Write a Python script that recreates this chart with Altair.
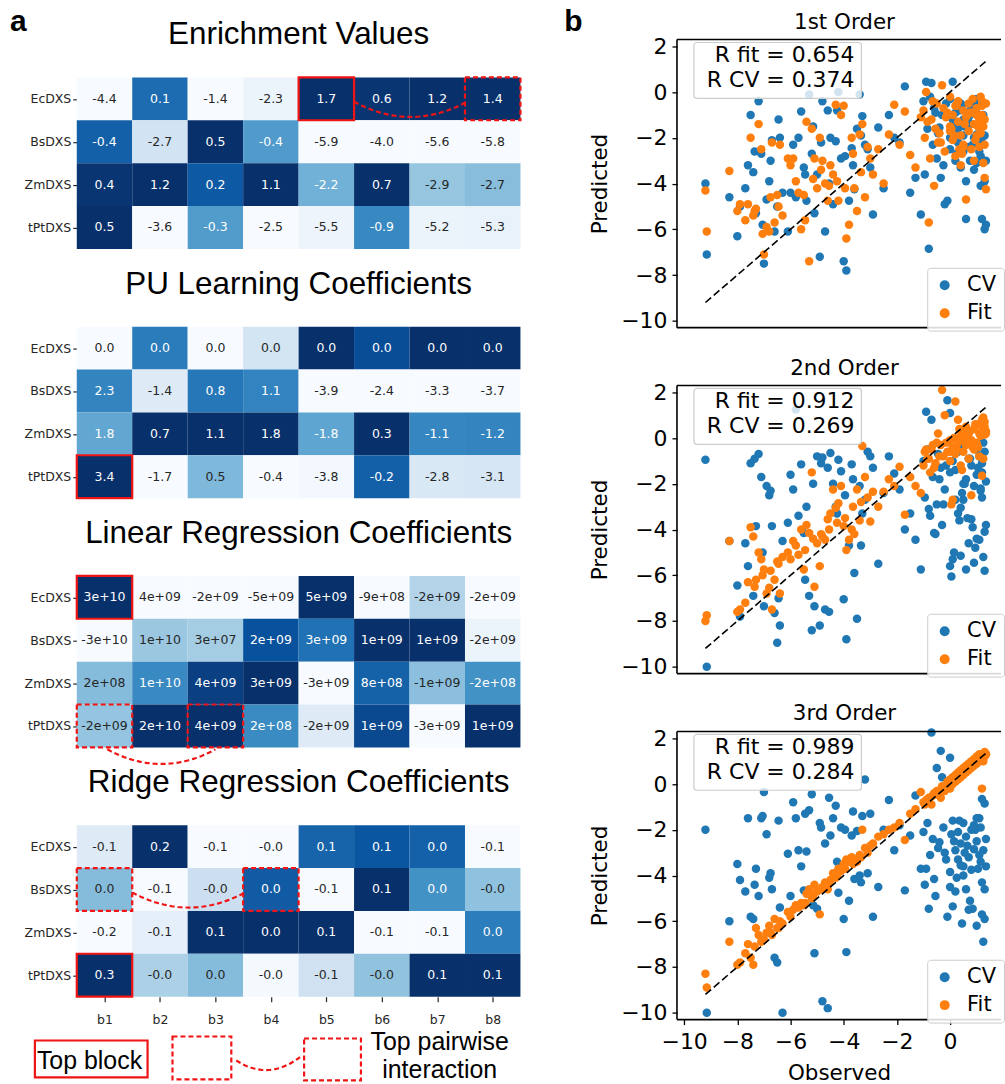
import altair as alt
import numpy as np
import pandas as pd

# ---------------------------------------------------------------- heatmaps
BLOCKS = ["b1", "b2", "b3", "b4", "b5", "b6", "b7", "b8"]
ENZYMES = ["EcDXS", "BsDXS", "ZmDXS", "tPtDXS"]

ENRICHMENT = [
    [-4.4, 0.1, -1.4, -2.3, 1.7, 0.6, 1.2, 1.4],
    [-0.4, -2.7, 0.5, -0.4, -5.9, -4.0, -5.6, -5.8],
    [0.4, 1.2, 0.2, 1.1, -2.2, 0.7, -2.9, -2.7],
    [0.5, -3.6, -0.3, -2.5, -5.5, -0.9, -5.2, -5.3],
]
PU_LEARNING = [
    [0.0, 0.0, 0.0, 0.0, 0.0, 0.0, 0.0, 0.0],
    [2.3, -1.4, 0.8, 1.1, -3.9, -2.4, -3.3, -3.7],
    [1.8, 0.7, 1.1, 1.8, -1.8, 0.3, -1.1, -1.2],
    [3.4, -1.7, 0.5, -0.4, -3.8, -0.2, -2.8, -3.1],
]
LINEAR = [
    [3.4e10, 4.4e9, -2.4e9, -5e9, 5e9, -9e8, -1.8e9, -2.2e9],
    [-2.6e10, 1.0e10, 3e7, 2e9, 3e9, 1.2e9, 1.3e9, -2.0e9],
    [2e8, 1.4e10, 4.0e9, 3e9, -3e9, 8e8, -1.3e9, -2e8],
    [-2e9, 1.9e10, 4.4e9, 2e8, -2e9, 1.0e9, -3.2e9, 1.0e9],
]
RIDGE = [
    [-0.14, 0.21, -0.085, -0.021, 0.08, 0.09, 0.04, -0.1],
    [0.01, -0.12, -0.042, 0.03, -0.12, 0.12, 0.01, -0.03],
    [-0.2, -0.09, 0.11, 0.04, 0.13, -0.09, -0.09, 0.02],
    [0.28, -0.01, 0.0, -0.02, -0.07, -0.005, 0.07, 0.07],
]
PANEL_TITLES = ["Enrichment Values", "PU Learning Coefficients",
                "Linear Regression Coefficients", "Ridge Regression Coefficients"]
PANEL_VALUES = [ENRICHMENT, PU_LEARNING, LINEAR, RIDGE]
LABEL_FORMATS = ["{:.1f}", "{:.1f}", "{:.0e}", "{:.1f}"]

# (panel, enzyme row, block column)
TOP_BLOCKS = [(0, 0, 4), (1, 3, 0), (2, 0, 0), (3, 3, 0)]
# pairs of cells joined by a dashed connector; "side" joins facing edges, "below" joins bottoms
TOP_PAIRS = [((0, 0, 4), (0, 0, 7), "side"),
             ((2, 3, 0), (2, 3, 2), "below"),
             ((3, 1, 0), (3, 1, 3), "side")]

# ---------------------------------------------------------------- scatter data
OBSERVED = [
    -9.2, -9.15, -8.3, -8.0, -7.9,
    -7.6, -7.5, -7.4, -7.3, -7.2, -7.1, -7.0, -6.9, -6.8, -6.7, -6.6, -6.5, -6.4, -6.3,
    -6.1, -5.9, -5.8, -5.6, -5.5, -5.4, -5.3, -5.2, -5.1, -5.0, -4.9, -4.8, -4.7, -4.6,
    -4.5, -4.4, -4.3, -4.2, -4.1, -4.0, -3.9, -3.8, -3.7, -3.6, -3.5, -3.4, -3.3, -3.2, -3.0, -2.9, -2.7,
    -2.5, -2.3, -2.1, -1.9, -1.7, -1.5, -1.3, -1.1,
    -0.9, -0.8, -0.7, -0.6, -0.5, -0.4, -0.3, -0.2, -0.1, 0.0, 0.0, 0.1, 0.1, 0.2, 0.2,
    0.3, 0.3, 0.4, 0.4, 0.5, 0.5, 0.6, 0.6, 0.7, 0.7, 0.8, 0.8, 0.9, 0.9, 1.0, 1.0,
    1.1, 1.1, 1.2, 1.2, 1.3, 1.3, 1.35, 0.05, 0.45, 0.85, 1.25, -0.35, 0.65, 1.15,
    -1.0, -0.95, -0.85, -0.75, -0.65, -0.55, -0.45, -0.25, -0.15, 0.15, 0.25, 0.35,
    0.55, 0.75, 0.95, 1.05, 1.15, 1.25, 1.3, 1.35, 0.0, 0.5, 1.0, 1.2,
    -7.7, -7.35, -7.05, -6.75, -6.45, -6.0, -5.7, -5.45, -5.15, -4.85, -4.55, -4.25,
    -3.95, -3.65, -3.35, -3.1,
]
CV_1ST = [
    -4.0, -7.1, -4.6, -6.3, -5.0,
    -3.2, -1.0, -3.5, -5.3, -0.4, -2.7, -7.5, -4.7, -3.9, -2.1, -6.1, -5.0, -2.0, -4.4,
    -6.1, -2.3, -4.6, -0.85, -3.3, -4.75, -0.1, -2.7, -5.3, -3.6, -7.2, -0.4, -6.1, -0.8,
    -2.0, -4.9, -2.15, 0.0, -2.9, -7.4, -7.8, -4.75, -2.45, -4.25, -1.6, -0.1, -1.05, -2.3, -3.3, -5.35, -1.55,
    -4.2, -1.0, -2.0, -2.2, 0.25, -4.4, -3.75, -5.35,
    0.45, -6.85, 0.4, -0.7, -2.9, -1.55, -1.0, -4.9, -4.75, -2.0, -0.3, 0.45, -1.2, -3.0,
    -0.9, -2.2, -1.6, -3.3, -0.5, -2.6, -1.9, -5.55, -3.9, -1.1, -2.4, -0.7, -1.4, -2.0,
    -3.4, -3.1, -1.85, -2.6, -1.0, -5.55, -1.3, -6.0, -3.9, -3.0, -1.7, -0.6, -2.3, -1.2,
    -3.75, -0.9, -2.8,
    -0.4, -3.6, -1.6, -0.2, -2.3, -0.9, -1.8, -3.2, -0.5, -1.4, -2.7, -0.8,
    -1.5, -3.0, -0.6, -2.2, -4.1, -1.0, -1.9, -5.8, -2.5, -1.2, -0.3, -2.0,
    -4.2, -2.6, -5.8, -3.0, -1.2, -4.4, -2.0, -3.6, -1.5, -2.2, -4.0, -0.8,
    -2.8, -3.2, -1.9, -2.5,
]
FIT_1ST = [
    -4.3, -6.1, -3.45, -5.2, -4.9,
    -4.9, -2.0, -5.4, -5.1, -1.4, -2.5, -7.1, -5.9, -6.1, -2.2, -5.7, -4.5, -2.3, -5.4,
    -2.9, -2.9, -3.9, -6.0, -4.5, -1.3, -7.4, -1.6, -2.9, -4.2, -2.0, -3.0, -4.0, -4.75,
    -3.2, -3.6, -0.55, -4.75, -1.0, -0.6, -6.4, -5.8, -2.0, -4.2, -5.2, -1.85, -1.4, -4.6, -2.9, -3.6, -2.5,
    -4.0, -1.85, -0.55, -2.3, -0.85, -2.75, -3.3, -1.1,
    0.0, -5.7, -1.2, -4.1, -0.5, -1.8, 0.3, -2.6, -0.9, -1.5, -0.2, -2.1, -1.0, -0.6,
    -2.8, -1.3, -0.4, -1.9, -3.2, -0.8, -2.3, -4.7, -1.1, -0.5, -1.7, -2.5, -0.9, -1.4,
    -3.0, -0.7, -1.9, -1.2, -2.4, -1.0, -0.4, -2.3, -3.75, -4.25, -1.6, -2.7, -0.3, -1.5,
    -2.2, -1.0, -1.8,
    -0.8, -2.0, -1.3, -2.9, -0.4, -1.6, -2.2, -0.7, -1.1, -1.9, -0.6, -2.5,
    -1.4, -0.9, -2.1, -1.5, -0.2, -3.1, -1.2, -0.5, -1.7, -2.4, -1.0, -0.6,
    -5.6, -5.2, -6.2, -4.6, -5.0, -3.2, -4.4, -5.6, -3.8, -3.4, -4.1, -3.9,
    -4.2, -2.7, -3.5, -2.4,
]
CV_2ND = [
    -0.95, -10.0, -4.5, -6.45, -7.8,
    -5.6, -1.1, -6.9, -3.85, -0.7, -1.7, -7.35, -2.1, -2.5, -3.85, -7.65, -8.95, -8.2, -4.5,
    -3.7, -2.25, 1.25, -1.15, -4.15, -3.0, -6.9, -8.4, -7.35, -0.8, -8.2, -0.85, -7.5, -1.3,
    -0.65, -2.0, -3.0, -0.95, -1.45, -7.05, -8.8, -4.7, -1.15, -5.9, -7.9, -2.1, -3.3, -2.7, -0.8, -1.3, -5.5,
    -2.4, -0.8, -1.55, -2.25, -4.0, -3.3, -4.45, -5.75,
    1.15, -3.1, 0.8, -4.15, -2.9, -1.8, -3.8, -2.25, 1.65, 1.1, -5.6, -5.3, -1.0, -2.7,
    -1.4, -3.3, -0.6, -5.15, -3.05, -2.0, -0.3, -5.75, -1.8, -4.6, -0.9, -3.55, -1.2, -5.45,
    -2.1, -0.5, -1.6, -4.45, -0.8, -1.5, -2.6, -5.8, -4.1, -1.9, -6.05, -2.4, -3.9, -0.2,
    -1.3, -3.5, -2.2,
    -1.0, -2.6, -0.5, -3.4, -1.7, -4.2, -0.7, -2.9, -1.2, -5.0, -0.4, -3.6,
    -2.0, -0.9, -4.8, -1.3, -2.3, -5.2, -0.6, -3.8, -1.5, -2.7, -4.4, -1.1,
    -4.6, -0.9, -5.0, -2.3, -7.0, -1.6, -3.4, -6.2, -2.0, -1.1, -7.6, -3.3,
    -2.5, -1.8, -4.7, -0.6,
]
FIT_2ND = [
    -8.0, -7.75, -4.5, -7.6, -7.5,
    -6.3, -3.9, -4.3, -6.2, -5.0, -5.3, -5.75, -6.8, -6.55, -7.5, -6.2, -5.4, -6.8, -5.2,
    -5.0, -4.5, -4.7, -4.0, -5.75, -3.8, -4.15, -1.5, -6.5, -4.6, -5.6, -4.3, -4.45, -3.55,
    -3.3, -2.25, -3.05, -2.85, -2.1, -3.85, -4.9, -4.45, -4.0, -4.2, -2.25, -3.6, -0.35, -1.7, -3.65, -2.35, -3.0,
    -2.35, -1.8, -2.1, -1.25, -3.35, -1.7, -2.1, -2.4,
    -0.5, -0.9, -0.5, -1.3, -0.2, -0.8, 2.1, 1.0, -0.6, -1.0, -0.1, -2.7, -0.4, 1.6,
    -0.7, 0.8, -0.2, -1.2, 0.1, -0.6, 0.3, -0.3, 0.5, -0.9, 0.2, -2.5, -0.1, 0.4,
    -0.5, 0.6, -0.3, 0.2, -0.8, 0.5, -1.65, 0.7, 0.15, 0.2, -2.9, -1.4, -0.4, -0.9,
    -0.3, 0.0, 0.6,
    -1.2, -0.6, -0.9, -1.5, -0.3, -1.1, 0.2, -0.8, -0.2, 0.0, -0.5, 0.4,
    -0.1, 0.3, 0.6, -0.4, 0.1, 0.9, 0.5, 0.3, -0.6, 0.0, -0.2, 0.8,
    -7.2, -6.5, -6.0, -5.8, -5.5, -5.3, -5.1, -4.9, -4.4, -4.2, -4.0, -3.7,
    -3.5, -3.0, -2.8, -2.6,
]
CV_3RD = [
    -2.0, -10.0, -6.0, -3.5, -4.2,
    -1.5, -5.8, -5.9, -3.7, -4.9, -1.5, -0.35, -2.2, -4.1, -4.6, -7.6, -7.8, -5.4, -10.0,
    -3.05, -0.8, -1.5, -3.6, -4.65, -2.95, -1.15, -0.45, -7.4, -5.45, -1.7, -9.5, -2.6, -9.8,
    -2.25, -1.5, -0.95, -4.75, -1.9, -5.9, -7.35, -5.1, -2.25, -4.15, -2.05, -4.0, -1.4, 0.2, -1.3, -5.8, -4.5,
    -2.0, -0.7, -2.9, -1.8, -4.65, -2.25, -0.5, -3.7,
    -3.7, -5.45, 2.25, -4.15, 0.7, -2.55, 0.3, -3.0, -5.8, 1.15, -3.85, -5.35, -1.6, -4.7,
    -2.9, -3.3, -2.1, -3.55, -2.6, -1.7, -4.0, -4.6, -2.3, -5.5, -3.2, -3.75, -2.0, -1.8,
    -2.85, -6.2, -2.5, -3.1, -1.5, -0.65, -4.3, -0.85, -4.6, -3.6, -2.2, -6.1, -5.45, -6.9,
    1.45, -2.7, -3.4,
    -2.1, -4.4, -1.7, -3.1, -2.4, -4.9, -2.8, -1.9, -3.3, -2.5, -4.1, -1.6,
    -3.0, -5.1, -2.0, -3.7, -1.9, -2.9, -5.9, -2.4, -4.5, -3.6, -1.5, -5.7,
    -4.7, -4.4, -1.4, -3.9, -1.6, -4.9, -2.9, -1.3, -5.3, -1.9, -0.6, -3.4,
    -2.0, -1.2, -4.3, -3.9,
]
FIT_3RD = [
    -8.3, -8.9, -6.9, -7.9, -7.8,
    -7.0, -7.6, -7.9, -6.3, -6.6, -6.9, -6.8, -6.5, -6.2, -6.6, -5.9, -6.3, -6.0, -6.1,
    -5.6, -5.5, -5.3, -5.2, -5.3, -4.8, -4.6, -5.0, -4.4, -4.7, -5.7, -4.5, -4.3, -4.6,
    -4.2, -3.9, -4.1, -3.7, -3.8, -3.5, -3.3, -3.4, -3.2, -3.3, -3.4, -3.1, -2.0, -2.8, -2.7, -2.6, -2.3,
    -2.2, -2.0, -1.9, -1.7, -2.45, -1.3, -1.1, -0.35,
    -0.7, -0.6, -0.9, -0.4, -0.3, -0.5, -0.1, -0.3, 0.1, 0.2, -0.2, 0.3, 0.0, 0.4,
    0.1, 0.5, 0.2, 0.6, 0.3, 0.7, 0.4, 0.5, 0.8, 0.9, 0.6, 1.0, 0.7, 0.8,
    1.1, 1.2, 0.9, 1.0, 1.3, -0.2, 1.1, 1.4, 1.2, 1.3, 0.0, 0.6, 0.9, 1.0,
    -0.6, 0.7, 1.2,
    -0.8, -0.9, -0.7, -0.6, -0.5, -0.4, -0.3, -0.2, -0.1, 0.2, 0.3, 0.4,
    0.6, 0.7, 1.0, 1.0, 1.1, 1.2, 1.3, 1.3, 0.0, 0.5, 0.9, 1.2,
    -7.4, -7.1, -6.8, -6.5, -6.3, -5.8, -5.4, -5.2, -4.9, -4.6, -4.3, -4.0,
    -3.7, -3.5, -3.2, -3.0,
]
ORDER_TITLES = ["1st Order", "2nd Order", "3rd Order"]
R_FIT = [0.654, 0.912, 0.989]
R_CV = [0.374, 0.269, 0.284]

# ---------------------------------------------------------------- styling
BLUES = ["#f7fbff", "#deebf7", "#c6dbef", "#9ecae1", "#6baed6",
         "#4292c6", "#2171b5", "#08519c", "#08306b"]
RED = "#f01414"
SANS = "DejaVu Sans"
ARIAL = "Liberation Sans"

TOP_GAP = 38        # room above the first heatmap inside the left plot area
ROW_H = 43          # pixel height of one heatmap row
PANEL_STEP = 250    # vertical distance between stacked heatmaps
N_COLS = len(BLOCKS)
LEFT_W = 445
CELL_W = LEFT_W / N_COLS
LEFT_H = TOP_GAP + 3 * PANEL_STEP + 4 * ROW_H
SC_W, SC_H = 325, 289


def row_top(panel, row):
    return TOP_GAP + panel * PANEL_STEP + row * ROW_H


def col_at(px):
    """Column units for a horizontal offset (pixels) from the heatmap's left edge."""
    return px / CELL_W


# ---------------------------------------------------------------- heatmap tables
cells = []
for k, (mat, fmt) in enumerate(zip(PANEL_VALUES, LABEL_FORMATS)):
    arr = np.array(mat, dtype=float)
    lo, hi = arr.min(axis=0), arr.max(axis=0)
    norm = (arr - lo) / (hi - lo)          # colour scaled within each block column
    for r in range(len(ENZYMES)):
        for c in range(N_COLS):
            cells.append(dict(
                c0=c, c1=c + 1, cm=c + 0.5,
                y0=row_top(k, r), y1=row_top(k, r) + ROW_H, ym=row_top(k, r) + ROW_H / 2,
                norm=float(norm[r, c]), label=fmt.format(arr[r, c]),
                ink="white" if norm[r, c] > 0.46 else "#262626",
            ))
cells = pd.DataFrame(cells)

solid_boxes = pd.DataFrame([dict(c0=c, c1=c + 1, y0=row_top(k, r), y1=row_top(k, r) + ROW_H)
                            for k, r, c in TOP_BLOCKS])
dashed = []
for a, b, _ in TOP_PAIRS:
    for k, r, c in (a, b):
        if (k, r, c) not in TOP_BLOCKS:
            dashed.append(dict(c0=c, c1=c + 1, y0=row_top(k, r), y1=row_top(k, r) + ROW_H))
dashed_boxes = pd.DataFrame(dashed)


def arc(name, x0, y0, x1, y1, depth, n=40):
    t = np.linspace(0, 1, n)
    return pd.DataFrame(dict(arc=name, i=np.arange(n), x=x0 + (x1 - x0) * t,
                             y=y0 + (y1 - y0) * t + 4 * depth * t * (1 - t)))


arcs = []
for j, (a, b, kind) in enumerate(TOP_PAIRS):
    (k, r, c), (_, _, c2) = a, b
    if kind == "side":
        y = row_top(k, r) + 0.57 * ROW_H
        arcs.append(arc(f"p{j}", c + 1, y, c2, y + 1, 0.34 * ROW_H))
    else:
        y = row_top(k, r) + ROW_H + 2
        arcs.append(arc(f"p{j}", c + 0.55, y, c2 + 0.5, y, 0.34 * ROW_H))

# key drawn underneath the block axis
KEY_Y = LEFT_H
arcs.append(arc("key", col_at(160), KEY_Y + 64, col_at(226), KEY_Y + 59, 12))
arcs = pd.concat(arcs, ignore_index=True)

key_solid = pd.DataFrame([dict(c0=col_at(-42), c1=col_at(71), y0=KEY_Y + 44, y1=KEY_Y + 81)])
key_dashed = pd.DataFrame([dict(c0=col_at(96), c1=col_at(155), y0=KEY_Y + 40, y1=KEY_Y + 83),
                           dict(c0=col_at(228), c1=col_at(285), y0=KEY_Y + 42, y1=KEY_Y + 84)])
key_left = pd.DataFrame([dict(x=col_at(-40), y=KEY_Y + 73, t="Top block")])
key_centre = pd.DataFrame([dict(x=col_at(364), y=KEY_Y + 54, t="Top pairwise\ninteraction")])
titles = pd.DataFrame(dict(x=[N_COLS / 2] * 4,
                           y=[row_top(k, 0) - 42 for k in range(4)],
                           t=PANEL_TITLES))

XS = alt.Scale(domain=[0, N_COLS], nice=False, zero=False)
YS = alt.Scale(domain=[0, LEFT_H], nice=False, zero=False, reverse=True)
row_centres = [row_top(k, r) + ROW_H / 2 for k in range(4) for r in range(4)]
X_AX = alt.Axis(values=[c + 0.5 for c in range(N_COLS)], labelExpr="'b' + (datum.value + 0.5)",
                title=None, grid=False, domain=False, tickSize=5, tickWidth=1.2,
                tickColor="#262626", labelFont=SANS, labelFontSize=12.5, labelColor="#262626",
                labelPadding=12, labelFlush=False, labelOverlap=False)
Y_AX = alt.Axis(values=row_centres,
                labelExpr=f"['EcDXS','BsDXS','ZmDXS','tPtDXS']"
                          f"[floor(((datum.value - {TOP_GAP}) % {PANEL_STEP}) / {ROW_H})]",
                title=None, grid=False, domain=False, tickSize=4, tickWidth=1.2,
                tickColor="#262626", labelFont=SANS, labelFontSize=12.5, labelColor="#262626",
                labelPadding=2, labelFlush=False, labelOverlap=False)


def xq(field):
    return alt.X(field, type="quantitative", scale=XS, axis=X_AX)


def yq(field):
    return alt.Y(field, type="quantitative", scale=YS, axis=Y_AX)


heat = alt.Chart(cells).mark_rect().encode(
    x=xq("c0"), x2="c1", y=yq("y0"), y2="y1",
    fill=alt.Fill("norm:Q", scale=alt.Scale(domain=[i / 8 for i in range(9)], range=BLUES),
                  legend=None),
)
heat_text = alt.Chart(cells).mark_text(font=SANS, fontSize=12.5).encode(
    x=xq("cm"), y=yq("ym"), text="label:N", color=alt.Color("ink:N", scale=None),
)


def boxes(df, dash):
    props = dict(fillOpacity=0, stroke=RED, strokeWidth=2.2)
    if dash:
        props["strokeDash"] = [5, 3]
    return alt.Chart(df).mark_rect(**props).encode(x=xq("c0"), x2="c1", y=yq("y0"), y2="y1")


def texts(df, **style):
    return alt.Chart(df).mark_text(**style).encode(x=xq("x"), y=yq("y"), text="t:N")


arc_layer = alt.Chart(arcs).mark_line(stroke=RED, strokeWidth=2.2, strokeDash=[5, 3]).encode(
    x=xq("x"), y=yq("y"), detail="arc:N", order="i:Q")
title_layer = texts(titles, font=ARIAL, fontSize=31.5, baseline="middle")
key_left_layer = texts(key_left, font=ARIAL, fontSize=25, align="left", baseline="alphabetic")
key_centre_layer = texts(key_centre, font=ARIAL, fontSize=25, align="center",
                         baseline="alphabetic", lineHeight=28, lineBreak="\n")
letter_a = alt.Chart(pd.DataFrame({"t": ["a"]})).mark_text(
    font=ARIAL, fontSize=30, fontWeight="bold", align="left", baseline="top").encode(
    x=alt.value(-67), y=alt.value(-33), text="t:N")

left = alt.layer(heat, heat_text, boxes(solid_boxes, False), boxes(dashed_boxes, True),
                 arc_layer, title_layer, boxes(key_solid, False), boxes(key_dashed, True),
                 key_left_layer, key_centre_layer, letter_a).properties(width=LEFT_W, height=LEFT_H)

# ---------------------------------------------------------------- scatter panels
SX = alt.Scale(domain=[-10.27, -10.27 + SC_W / 26.67], nice=False, zero=False)
SY = alt.Scale(domain=[-10.3, 2.3], nice=False, zero=False)
AXIS_STYLE = dict(grid=False, domain=False, tickSize=5,
                  tickWidth=1.3, tickColor="black", labelFont=SANS, labelFontSize=22,
                  labelColor="black", labelFlush=False, labelOverlap=False,
                  titleFont=SANS, titleFontSize=21.5, titleFontWeight="normal",
                  titleColor="black")
SX_AX = alt.Axis(values=list(range(-10, 1, 2)), title="Observed", labelPadding=7,
                 titlePadding=10, **AXIS_STYLE)
SY_AX = alt.Axis(values=list(range(-10, 3, 2)), title="Predicted", labelPadding=5,
                 titlePadding=9, **AXIS_STYLE)
line_df = pd.DataFrame({"v": [min(OBSERVED), max(OBSERVED)]})
one_row = pd.DataFrame({"k": [0]})


def frame_edge(x, x2, y, y2):
    return alt.Chart(one_row).mark_rule(color="black", strokeWidth=1.6).encode(
        x=alt.value(x), x2=alt.value(x2), y=alt.value(y), y2=alt.value(y2))


def label(text, x, y, **style):
    return alt.Chart(pd.DataFrame({"t": [text]})).mark_text(**style).encode(
        x=alt.value(x), y=alt.value(y), text="t:N")


def scatter_panel(i, cv, fit, bottom):
    pts = pd.DataFrame({"Observed": OBSERVED + OBSERVED, "Predicted": cv + fit,
                        "Series": ["CV"] * len(cv) + ["Fit"] * len(fit)})
    x_ax = SX_AX if bottom else None
    points = alt.Chart(pts).mark_circle(size=72, opacity=1).encode(
        x=alt.X("Observed:Q", scale=SX, axis=x_ax),
        y=alt.Y("Predicted:Q", scale=SY, axis=SY_AX),
        color=alt.Color("Series:N", scale=alt.Scale(domain=["CV", "Fit"],
                                                    range=["#1f77b4", "#ff7f0e"]),
                        legend=alt.Legend(title=None, orient="none", legendX=251, legendY=229,
                                          fillColor="rgba(255,255,255,0.85)",
                                          strokeColor="#cccccc", cornerRadius=3, padding=7,
                                          labelFont=SANS, labelFontSize=21, labelColor="black",
                                          labelOffset=12, symbolType="circle", symbolSize=100,
                                          symbolStrokeWidth=0, rowPadding=6)),
    )
    ident = alt.Chart(line_df).mark_line(color="black", strokeWidth=1.6,
                                         strokeDash=[7.5, 3.5]).encode(
        x=alt.X("v:Q", scale=SX, axis=x_ax), y=alt.Y("v:Q", scale=SY, axis=SY_AX))
    box = alt.Chart(one_row).mark_rect(fill="white", fillOpacity=0.8, stroke="#cccccc",
                                       strokeWidth=1.2, cornerRadius=3).encode(
        x=alt.value(17), x2=alt.value(185), y=alt.value(3), y2=alt.value(59))
    stat_style = dict(font=SANS, fontSize=22, align="right", baseline="middle")
    layers = [points, ident,
              frame_edge(0, SC_W, 0, 0), frame_edge(0, SC_W, SC_H, SC_H),
              frame_edge(0, 0, 0, SC_H),
              box,
              label(f"R fit = {R_FIT[i]:.3f}", 178, 16, **stat_style),
              label(f"R CV = {R_CV[i]:.3f}", 178, 41, **stat_style),
              label(ORDER_TITLES[i], 168, -17, font=SANS, fontSize=21.5, baseline="middle")]
    if i == 0:
        layers.append(label("b", -113, -33, font=ARIAL, fontSize=30, fontWeight="bold",
                            align="left", baseline="top"))
    return alt.layer(*layers).properties(width=SC_W, height=SC_H)


right = alt.vconcat(
    scatter_panel(0, CV_1ST, FIT_1ST, False),
    scatter_panel(1, CV_2ND, FIT_2ND, False),
    scatter_panel(2, CV_3RD, FIT_3RD, True),
    spacing=25,
).resolve_scale(color="independent")

chart = alt.hconcat(left, right, spacing=42).resolve_scale(color="independent").properties(
    padding={"left": 10, "top": 5, "right": 0, "bottom": 0},
).configure_view(stroke=None)

chart.save("out.html", embed_options={"renderer": "svg", "actions": False})
